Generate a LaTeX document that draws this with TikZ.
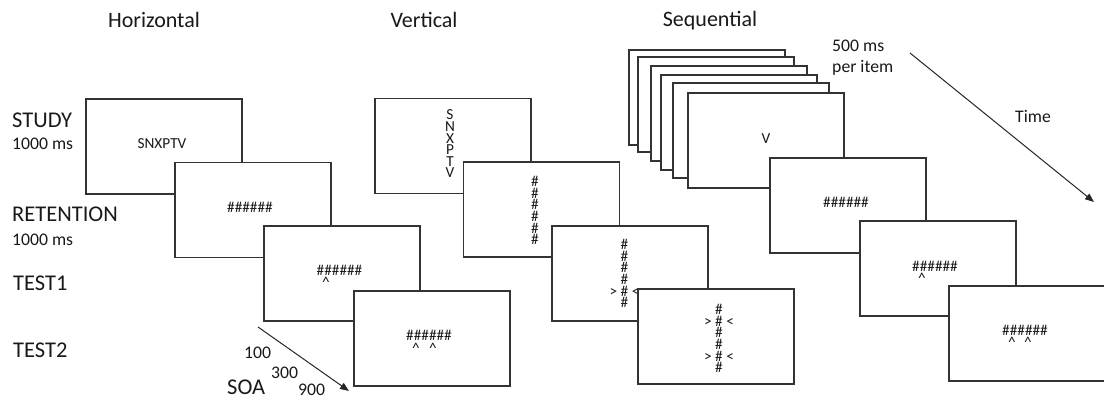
\documentclass[tikz,border=0pt]{standalone}
\usepackage{fontspec}
\setmainfont{Carlito}
\usetikzlibrary{arrows.meta}
\begin{document}
\begin{tikzpicture}[x=1pt,y=-1pt,
  scr/.style={draw=black!80, fill=white, line width=1.4pt, minimum width=156pt, minimum height=95pt, inner sep=0pt},
  lab/.style={anchor=base west, font=\fontsize{22.5}{27}\selectfont, inner sep=0pt, text=black!90},
  sub/.style={anchor=base west, font=\fontsize{17.7}{21}\selectfont, inner sep=0pt, text=black!90},
  ttl/.style={anchor=base, font=\fontsize{22}{26}\selectfont, inner sep=0pt, text=black!90},
  stim/.style={anchor=base, font=\fontsize{15.3}{11.6}\selectfont, inner sep=0pt, text=black!90},
  col/.style={align=center, font=\fontsize{15.3}{11.6}\selectfont, inner sep=0pt, text=black!90},
  tarrow/.style={-{Triangle[length=9pt,width=7pt]}, line width=1pt, draw=black!85}
]
\useasboundingbox (0,0) rectangle (1104,398);

% titles
\node[ttl] (tH) at (154,28) {Horizontal};
\node[ttl] (tV) at (424,28) {Vertical};
\node[ttl] (tS) at (710,27) {Sequential};

% row labels
\node[lab] (lStudy) at (12,128) {STUDY};
\node[sub] (lStudyT) at (12,150) {1000 ms};
\node[lab] (lRet) at (12,222) {RETENTION};
\node[sub] (lRetT) at (12,246) {1000 ms};
\node[lab] (lT1) at (13,291) {TEST1};
\node[lab] (lT2) at (13,357) {TEST2};

% horizontal column
\node[scr] (h1) at (164,146.5) {};
\node[stim] (h1t) at (162,149) {SNXPTV};
\node[scr] (h2) at (253,210) {};
\node[stim] (h2t) at (250,213) {\#\#\#\#\#\#};
\node[scr] (h3) at (342,273.5) {};
\node[stim] (h3t) at (339.5,276) {\#\#\#\#\#\#};
\node[stim] (h3c) at (326,288) {\textasciicircum};
\node[scr] (h4) at (432,338.5) {};
\node[stim] (h4t) at (429,341) {\#\#\#\#\#\#};
\node[stim] (h4c1) at (416,353) {\textasciicircum};
\node[stim] (h4c2) at (433,353) {\textasciicircum};

% SOA
\coordinate (soaA) at (258,327);
\coordinate (soaB) at (349,391);
\draw[tarrow] (soaA) -- (soaB);
\node[sub] (n100) at (244,359) {100};
\node[sub] (n300) at (271,378) {300};
\node[sub] (n900) at (298,395.5) {900};
\node[lab] (lSOA) at (227,394) {SOA};

% vertical column
\node[scr] (v1) at (453,146) {};
\node[col] (v1t) at (450,144) {S\\N\\X\\P\\T\\V};
\node[scr] (v2) at (541.5,209.5) {};
\node[col] (v2t) at (535,210.5) {\#\\\#\\\#\\\#\\\#\\\#};
\node[scr] (v3) at (630,273.5) {};
\node[col] (v3t) at (624.5,273.5) {\#\\\#\\\#\\\#\\> \# <\\\#};
\node[scr] (v4) at (716,336.5) {};
\node[col] (v4t) at (719,338.5) {\#\\> \# <\\\#\\\#\\> \# <\\\#};

% sequential column
\node[scr] (s1) at (707,97.5) {};
\node[scr] (s2) at (716,104.5) {};
\node[scr] (s3) at (729,113.5) {};
\node[scr] (s4) at (739,122.5) {};
\node[scr] (s5) at (751,130.5) {};
\node[scr] (s6) at (766,140.5) {};
\node[stim] (s6t) at (766,144) {V};
\node[scr] (s7) at (848,205.5) {};
\node[stim] (s7t) at (846,208) {\#\#\#\#\#\#};
\node[scr] (s8) at (938,268.5) {};
\node[stim] (s8t) at (935,271.5) {\#\#\#\#\#\#};
\node[stim] (s8c) at (922,283.5) {\textasciicircum};
\node[scr] (s9) at (1027,333.5) {};
\node[stim] (s9t) at (1025,336) {\#\#\#\#\#\#};
\node[stim] (s9c1) at (1012,348) {\textasciicircum};
\node[stim] (s9c2) at (1028,348) {\textasciicircum};

% timing notes
\node[sub] (l500) at (832,52) {500 ms};
\node[sub] (lper) at (832,73) {per item};
\coordinate (tA) at (910,53);
\coordinate (tB) at (1094,202);
\draw[tarrow] (tA) -- (tB);
\node[sub] (lTime) at (1015,123) {Time};
\end{tikzpicture}
\end{document}
